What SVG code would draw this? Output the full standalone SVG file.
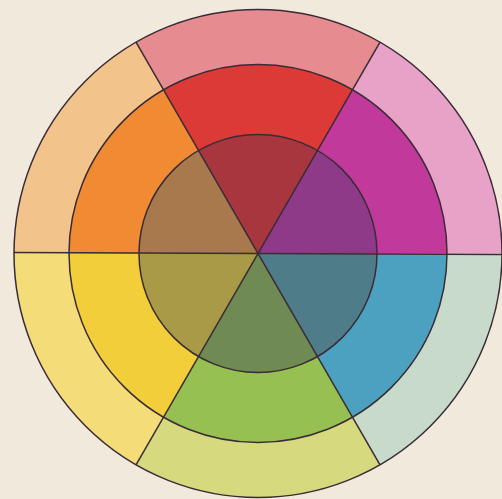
<svg xmlns="http://www.w3.org/2000/svg" width="502" height="499" viewBox="0 0 502 499">
<style>
.ln{fill:none;stroke:#3a2b36;stroke-width:1.5}
</style>
<rect width="502" height="499" fill="#f0e9dc"/>
<g id="outer-ring">
<path d="M258,253.5 L502,253.5 A244,244 0 0 0 380,42.19 Z" fill="#e8a2c8"/>
<path d="M258,253.5 L380,42.19 A244,244 0 0 0 136,42.19 Z" fill="#e68b8f"/>
<path d="M258,253.5 L136,42.19 A244,244 0 0 0 14,253.5 Z" fill="#f2c48b"/>
<path d="M258,253.5 L14,253.5 A244,244 0 0 0 136,464.81 Z" fill="#f4dc78"/>
<path d="M258,253.5 L136,464.81 A244,244 0 0 0 380,464.81 Z" fill="#d6d97d"/>
<path d="M258,253.5 L380,464.81 A244,244 0 0 0 502,253.5 Z" fill="#c8dbcb"/>
</g>
<g id="middle-ring">
<path d="M258,253.5 L447,253.5 A189,189 0 0 0 352.5,89.82 Z" fill="#c13a9b"/>
<path d="M258,253.5 L352.5,89.82 A189,189 0 0 0 163.5,89.82 Z" fill="#dc3a37"/>
<path d="M258,253.5 L163.5,89.82 A189,189 0 0 0 69,253.5 Z" fill="#f08a33"/>
<path d="M258,253.5 L69,253.5 A189,189 0 0 0 163.5,417.18 Z" fill="#f2cf3a"/>
<path d="M258,253.5 L163.5,417.18 A189,189 0 0 0 352.5,417.18 Z" fill="#96c152"/>
<path d="M258,253.5 L352.5,417.18 A189,189 0 0 0 447,253.5 Z" fill="#4ba1bf"/>
</g>
<g id="inner-disc">
<path d="M258,253.5 L377,253.5 A119,119 0 0 0 317.5,150.44 Z" fill="#8e3a88"/>
<path d="M258,253.5 L317.5,150.44 A119,119 0 0 0 198.5,150.44 Z" fill="#a8363f"/>
<path d="M258,253.5 L198.5,150.44 A119,119 0 0 0 139,253.5 Z" fill="#a8794c"/>
<path d="M258,253.5 L139,253.5 A119,119 0 0 0 198.5,356.56 Z" fill="#a89a46"/>
<path d="M258,253.5 L198.5,356.56 A119,119 0 0 0 317.5,356.56 Z" fill="#6f8a53"/>
<path d="M258,253.5 L317.5,356.56 A119,119 0 0 0 377,253.5 Z" fill="#4e7d89"/>
</g>
<g id="connectors">
<circle class="ln" cx="258" cy="253.5" r="244"/>
<circle class="ln" cx="258" cy="253.5" r="189"/>
<circle class="ln" cx="258" cy="253.5" r="119"/>
<line class="ln" x1="14" y1="252.5" x2="502" y2="254.5"/>
<line class="ln" x1="136" y1="42.19" x2="380" y2="464.81"/>
<line class="ln" x1="380" y1="42.19" x2="136" y2="464.81"/>
</g>
</svg>
